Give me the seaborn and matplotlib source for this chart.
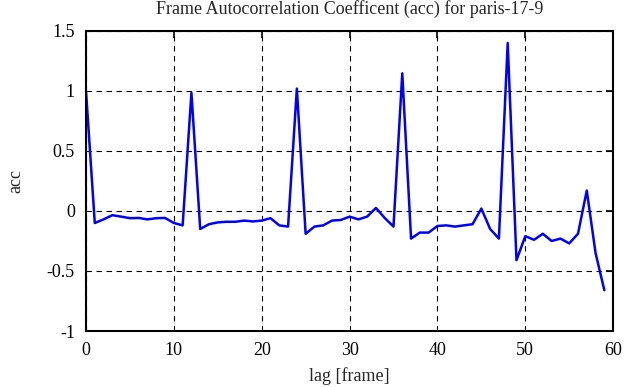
import numpy as np
import pandas as pd
import matplotlib
matplotlib.use("Agg")
import matplotlib.pyplot as plt
import seaborn as sns

# acc values, one per lag 0..59
lags = list(range(60))
acc = [1.00, -0.10, -0.07, -0.035, -0.047, -0.06, -0.058, -0.07, -0.06, -0.058,
       -0.10, -0.12, 0.985, -0.15, -0.11, -0.095, -0.09, -0.09, -0.08, -0.087,
       -0.08, -0.06, -0.12, -0.13, 1.02, -0.19, -0.13, -0.12, -0.08, -0.075,
       -0.047, -0.07, -0.047, 0.025, -0.058, -0.13, 1.147, -0.23, -0.18, -0.18,
       -0.125, -0.12, -0.13, -0.12, -0.11, 0.02, -0.15, -0.23, 1.40, -0.41,
       -0.21, -0.24, -0.19, -0.25, -0.23, -0.27, -0.19, 0.17, -0.35, -0.66]
xticks = [0, 10, 20, 30, 40, 50, 60]
yticks = [-1, -0.5, 0, 0.5, 1, 1.5]
ytick_labels = ["-1", "-0.5", "0", "0.5", "1", "1.5"]

df = pd.DataFrame({"lag": lags, "acc": acc})

sns.set_theme(style="white")
plt.rcParams["font.family"] = ["Liberation Serif", "DejaVu Serif"]

fig = plt.figure(figsize=(6.25, 3.87), dpi=100)
ax = fig.add_axes([0.1376, 0.1447, 0.8434, 0.7753])

sns.lineplot(data=df, x="lag", y="acc", color="#0000ff", linewidth=1.8, ax=ax)

ax.set_xlim(0, 60)
ax.set_ylim(-1, 1.5)
ax.set_xticks(xticks)
ax.set_xticklabels([str(t) for t in xticks])
ax.set_yticks(yticks)
ax.set_yticklabels(ytick_labels)
ax.grid(True, color="black", linestyle=(0, (5, 4)), linewidth=0.8)
ax.tick_params(direction="in", length=5, width=1.2, top=True, right=True,
               labelsize=13, colors="black", pad=8)
for s in ax.spines.values():
    s.set_color("black")
    s.set_linewidth(1.5)

ax.set_title("Frame Autocorrelation Coefficent (acc) for paris-17-9",
             fontsize=13, pad=12)
ax.set_xlabel("lag [frame]", fontsize=13, labelpad=6)
ax.set_ylabel("acc", fontsize=13, labelpad=16)

fig.savefig("out.png", dpi=100)
